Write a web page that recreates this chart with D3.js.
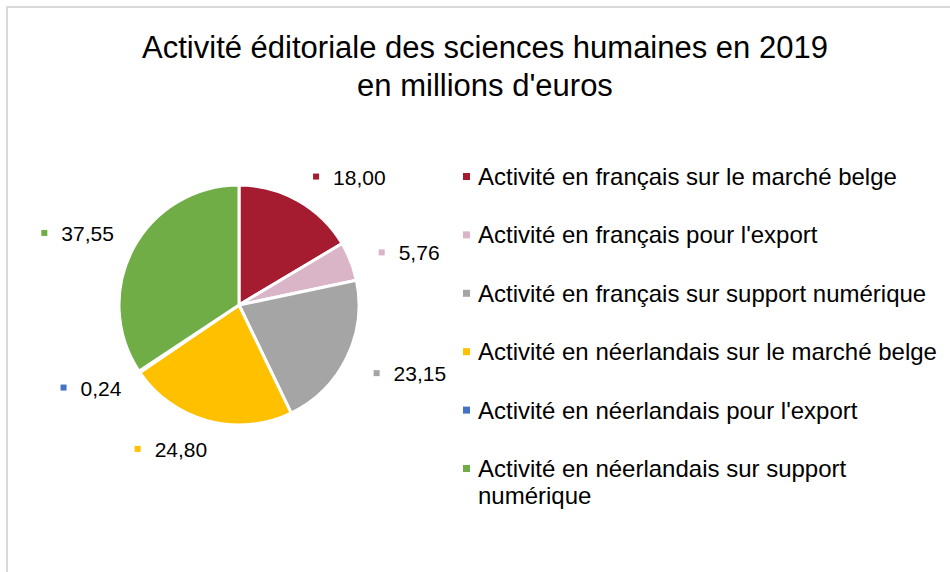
<!DOCTYPE html>
<html>
<meta charset="utf-8">
<head>
  <style>
    body { margin: 0; background: #fff; }
    svg text { font-family: "Liberation Sans", Arial, sans-serif; fill: #000; }
  </style>
  <script src="https://d3js.org/d3.v7.min.js"></script>
</head>
<body>
<svg id="chart" width="950" height="572"></svg>
<script>
  // data
  var categories = [
    "Activité en français sur le marché belge",
    "Activité en français pour l'export",
    "Activité en français sur support numérique",
    "Activité en néerlandais sur le marché belge",
    "Activité en néerlandais pour l'export",
    "Activité en néerlandais sur support numérique"
  ];
  var values = [18.00, 5.76, 23.15, 24.80, 0.24, 37.55];
  var colors = ["#A51B2F", "#D9B5C7", "#A5A5A5", "#FFC000", "#4472C4", "#70AD47"];
  var titleLines = ["Activité éditoriale des sciences humaines en 2019", "en millions d'euros"];

  var svg = d3.select("#chart");

  // frame
  svg.append("rect").attr("x", 7).attr("y", 7).attr("width", 960).attr("height", 600)
    .style("fill", "none").style("stroke", "#d9d9d9").style("stroke-width", 2);

  // title
  svg.append("text").attr("x", 485).attr("y", 58).attr("text-anchor", "middle")
    .style("font-size", "31px").text(titleLines[0]);
  svg.append("text").attr("x", 485).attr("y", 96).attr("text-anchor", "middle")
    .style("font-size", "31px").text(titleLines[1]);

  var cx = 239, cy = 305, r = 120;
  var fmt = function(v) { return d3.format(".2f")(v).replace(".", ","); };

  var pie = d3.pie().sort(null).value(function(d) { return d; });
  var arcs = pie(values);
  var arc = d3.arc().innerRadius(0).outerRadius(r);
  var labelArc = d3.arc().innerRadius(150).outerRadius(150);

  var g = svg.append("g").attr("transform", "translate(" + cx + "," + cy + ")");
  g.selectAll("path").data(arcs).enter().append("path")
    .attr("d", arc)
    .style("fill", function(d, i) { return colors[i]; })
    .style("stroke", "#fff").style("stroke-width", 3).style("stroke-linejoin", "round");

  // data labels: marker + value, left of the centroid on the left half
  arcs.forEach(function(d, i) {
    var c = labelArc.centroid(d);
    var mid = (d.startAngle + d.endAngle) / 2;
    var lg = g.append("g");
    var t = lg.append("text").style("font-size", "21px").text(fmt(values[i]));
    var tw = t.node().getComputedTextLength();
    var x0, y0;
    if (mid < Math.PI) { x0 = c[0]; y0 = c[1] + 2; }
    else { x0 = c[0] + 7 - tw - 20; y0 = c[1] - 1; }
    lg.append("rect").attr("x", x0).attr("y", y0 - 3).attr("width", 6).attr("height", 6)
      .style("fill", colors[i]);
    t.attr("x", x0 + 20).attr("y", y0 + 8);
  });

  // legend
  var legend = svg.append("g");
  var rowY = d3.scaleLinear().domain([0, 5]).range([185, 477]);
  categories.forEach(function(name, i) {
    var y = rowY(i);
    legend.append("rect").attr("x", 463).attr("y", y - 12).attr("width", 7).attr("height", 7)
      .style("fill", colors[i]);
    var lines = i == 5 ? ["Activité en néerlandais sur support", "numérique"] : [name];
    lines.forEach(function(l, j) {
      legend.append("text").attr("x", 478).attr("y", y + j * 27)
        .style("font-size", "24px").text(l);
    });
  });
</script>
</body>
</html>
